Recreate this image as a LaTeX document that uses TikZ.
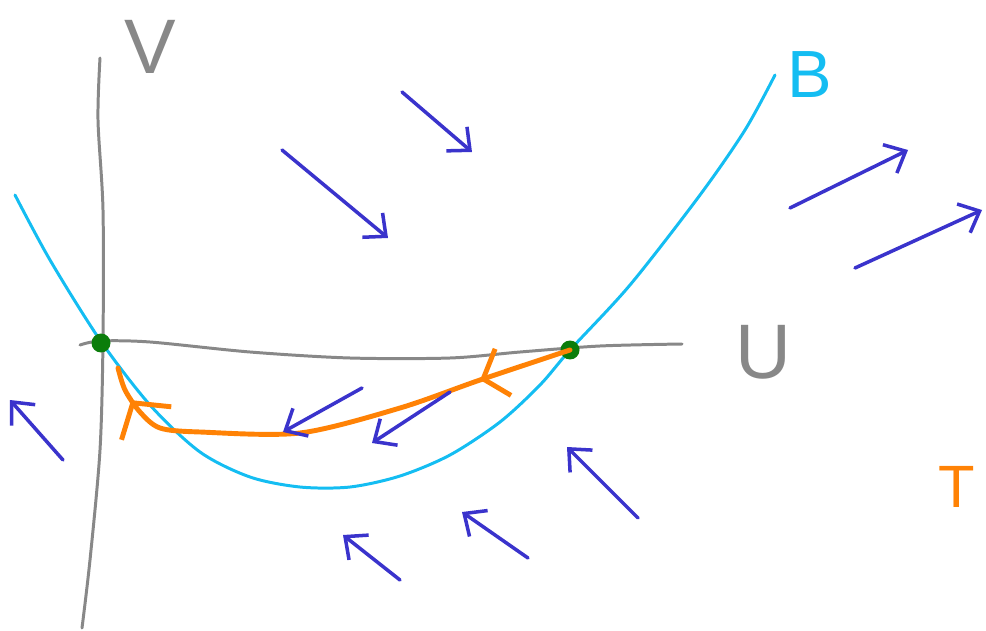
\documentclass[tikz,border=0pt]{standalone}
\usepackage{fontspec}
\setmainfont{Liberation Sans}
\usetikzlibrary{arrows.meta, decorations.markings}
\definecolor{axisgray}{HTML}{888888}
\definecolor{bcyan}{HTML}{14BDF2}
\definecolor{torange}{HTML}{FF8205}
\definecolor{fieldblue}{HTML}{3A33CC}
\definecolor{dotgreen}{HTML}{0B7D0B}

\tikzset{
    axis/.style={draw=axisgray, line width=1.7pt, line cap=round, line join=round},
    field/.style={draw=fieldblue, line width=2pt, line cap=round,
        -{Straight Barb[length=10pt, width=18pt, line width=2pt]}},
    fixpt/.style={circle, fill=dotgreen, inner sep=0pt, minimum size=0.38cm},
    letter/.style={inner sep=0pt, font=\fontsize{44}{44}\selectfont}
}

\begin{document}
\begin{tikzpicture}[x=0.02cm, y=-0.02cm]
    \useasboundingbox (0,0) rectangle (986,631);

    % axes
    \draw[axis] plot[smooth] coordinates {(100,58) (98,120) (103,210) (103,340) (100,450) (90,560) (82,628)};
    \draw[axis] plot[smooth] coordinates {(80,345) (100,341) (150,342) (250,352) (350,358) (450,358) (520,352) (600,346) (682,344)};
    \node[letter, text=axisgray] (labV) at (150,47) {V};
    \node[letter, text=axisgray] (labU) at (763,352) {U};

    % curve B
    \draw[bcyan, line width=1.7pt, line cap=round] plot[smooth] coordinates {(15,195) (50,260) (100,340) (150,405) (200,452) (250,477) (300,487) (350,487) (400,476) (450,455) (500,422) (540,385) (570,350) (630,285) (700,195) (745,130) (775,75)};
    \node[letter, text=bcyan, font=\fontsize{38}{38}\selectfont] (labB) at (810,75) {B};

    % fixed points
    \node[fixpt] (p0) at (101,343) {};
    \node[fixpt] (p1) at (570,350) {};

    % orbit T
    \coordinate (tend) at (118,368);
    \draw[torange, line width=2.8pt, line cap=round,
        postaction={decorate, decoration={markings,
            mark=at position 0.19 with {\arrow{Straight Barb[length=12pt, width=28pt, line width=2.8pt]}},
            mark=at position 0.93 with {\arrow{Straight Barb[length=14pt, width=34pt, line width=2.8pt]}}}}]
        plot[smooth] coordinates {(p1) (480,380) (400,408) (300,433) (200,432) (160,428) (140,412) (125,390) (tend)};
    \node[letter, text=torange, font=\fontsize{34}{34}\selectfont] (labT) at (957,487) {T};

    % direction field
    \draw[field] (402,92) -- (472,152);
    \draw[field] (282,150) -- (388,238);
    \draw[field] (790,208) -- (908,150);
    \draw[field] (855,268) -- (982,210);
    \draw[field] (63,460) -- (10,400);
    \draw[field] (362,388) -- (283,432);
    \draw[field] (450,392) -- (372,443);
    \draw[field] (638,518) -- (567,447);
    \draw[field] (528,558) -- (462,512);
    \draw[field] (400,580) -- (343,535);
\end{tikzpicture}
\end{document}
